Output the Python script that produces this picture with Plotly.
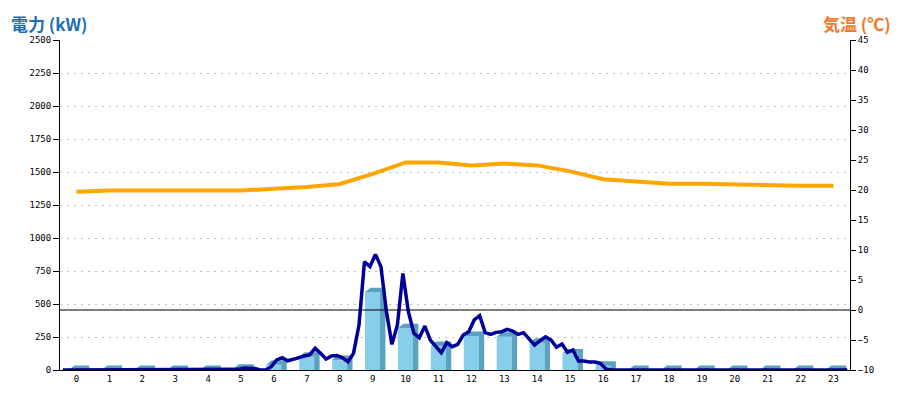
import plotly.graph_objects as go

# ---- data ----
hours = list(range(24))
hour_labels = [str(h) for h in hours]

# hourly electric power (kW) - bars
bar_kw = [0, 0, 0, 0, 0, 10, 40, 100, 75, 590, 316, 182, 258, 252, 207, 126,
          32, 0, 0, 0, 0, 0, 0, 0]

# hourly temperature (deg C)
temp_c = [19.7, 19.9, 19.9, 19.9, 19.9, 19.9, 20.2, 20.5, 21.0, 22.7, 24.6, 24.6,
          24.1, 24.4, 24.1, 23.1, 21.8, 21.4, 21.05, 21.05, 20.9, 20.9, 20.7, 20.7]

# 10-minute electric power (kW), 144 values, one row per hour
power_10min = [
    0, 0, 0, 0, 0, 0,            # 0
    0, 0, 0, 0, 0, 0,            # 1
    0, 0, 0, 0, 0, 0,            # 2
    0, 0, 0, 0, 0, 0,            # 3
    0, 0, 0, 0, 0, 0,            # 4
    0, 0, 5, 15, 15, 12,         # 5
    0, 0, 25, 76, 93, 70,        # 6
    81, 96, 106, 114, 164, 126,  # 7
    83, 106, 109, 93, 63, 126,   # 8
    341, 820, 783, 876, 783, 442,  # 9
    194, 341, 732, 442, 278, 245,  # 10
    333, 227, 177, 131, 207, 177,  # 11
    194, 265, 290, 379, 412, 283,  # 12
    270, 285, 290, 308, 295, 270,  # 13
    283, 240, 189, 222, 252, 227,  # 14
    172, 197, 134, 152, 68, 68,    # 15
    61, 61, 51, 8, 0, 0,           # 16
    0, 0, 0, 0, 0, 0,            # 17
    0, 0, 0, 0, 0, 0,            # 18
    0, 0, 0, 0, 0, 0,            # 19
    0, 0, 0, 0, 0, 0,            # 20
    0, 0, 0, 0, 0, 0,            # 21
    0, 0, 0, 0, 0, 0,            # 22
    0, 0, 0, 0, 0, 0,            # 23
]
power_minutes = list(range(5, 1440, 10))  # mid-point of each 10-min slot

# ---- styling constants ----
FRONT = "#87CEEB"
SIDE = "#5AA2C0"
BAR_OFF = -0.234
BAR_W = 0.456
DEPTH_X = 0.165
DEPTH_Y = 34.0

fig = go.Figure()

# front faces of the 3D bars
fig.add_trace(go.Bar(
    x=hours, y=bar_kw, width=BAR_W, offset=BAR_OFF,
    marker=dict(color=FRONT, line=dict(width=0)),
    hoverinfo="x+y", yaxis="y", xaxis="x",
))

# top + side faces of the 3D bars
px, py = [], []
for h, v in zip(hours, bar_kw):
    x0 = h + BAR_OFF
    x1 = x0 + BAR_W
    px += [x0, x0 + DEPTH_X, x1 + DEPTH_X, x1 + DEPTH_X, x1, x1, x0, None]
    py += [v, v + DEPTH_Y, v + DEPTH_Y, 0, 0, v, v, None]
fig.add_trace(go.Scatter(
    x=px, y=py, mode="lines", fill="toself", fillcolor=SIDE,
    line=dict(width=0, color=SIDE), hoverinfo="skip", yaxis="y",
))

# zero line of the temperature axis
fig.add_trace(go.Scatter(
    x=[-0.5, 23.5], y=[0, 0], mode="lines", yaxis="y2",
    line=dict(color="black", width=1.2), hoverinfo="skip",
))

# temperature
fig.add_trace(go.Scatter(
    x=hours, y=temp_c, mode="lines", yaxis="y2",
    line=dict(color="#FFA500", width=4),
))

# 10-minute power
fig.add_trace(go.Scatter(
    x=[m / 60 - 0.5 for m in power_minutes], y=power_10min, mode="lines",
    yaxis="y", line=dict(color="#000099", width=3.5),
))

tickfont = dict(family="DejaVu Sans Mono", size=9, color="black")

# page body has an 8px margin, so the figure is shrunk by that amount
fig.update_layout(
    width=892, height=392,
    margin=dict(l=52, r=50, t=32, b=30),
    paper_bgcolor="white", plot_bgcolor="white",
    showlegend=False,
    xaxis=dict(
        range=[-0.5, 23.5], tickmode="array", tickvals=hours, ticktext=hour_labels,
        showgrid=False, zeroline=False, showline=True, linecolor="black",
        linewidth=1, ticks="", tickfont=tickfont, fixedrange=True,
    ),
    yaxis=dict(
        range=[0, 2500], dtick=250, tick0=0, showgrid=True,
        gridcolor="#c0c0c0", griddash="2px,5px", gridwidth=1,
        zeroline=False, showline=True, linecolor="black", linewidth=1,
        ticks="outside", ticklen=6, tickcolor="black", tickfont=tickfont,
    ),
    yaxis2=dict(
        range=[-10, 45], dtick=5, tick0=-10, overlaying="y", side="right",
        showgrid=False, zeroline=False, showline=True, linecolor="black",
        linewidth=1, ticks="outside", ticklen=5, tickcolor="black",
        tickfont=tickfont,
    ),
    annotations=[
        dict(text="<b>電力 (kW)</b>", xref="paper", yref="paper",
             x=-0.064, y=1.0939, xanchor="left", yanchor="top", showarrow=False,
             font=dict(family="Noto Sans CJK JP", size=17, color="#1c6fb6")),
        dict(text="<b>気温 (℃)</b>", xref="paper", yref="paper",
             x=1.0545, y=1.0939, xanchor="right", yanchor="top", showarrow=False,
             font=dict(family="Noto Sans CJK JP", size=17, color="#ee7a2a")),
    ],
)

fig.write_html("out.html")
